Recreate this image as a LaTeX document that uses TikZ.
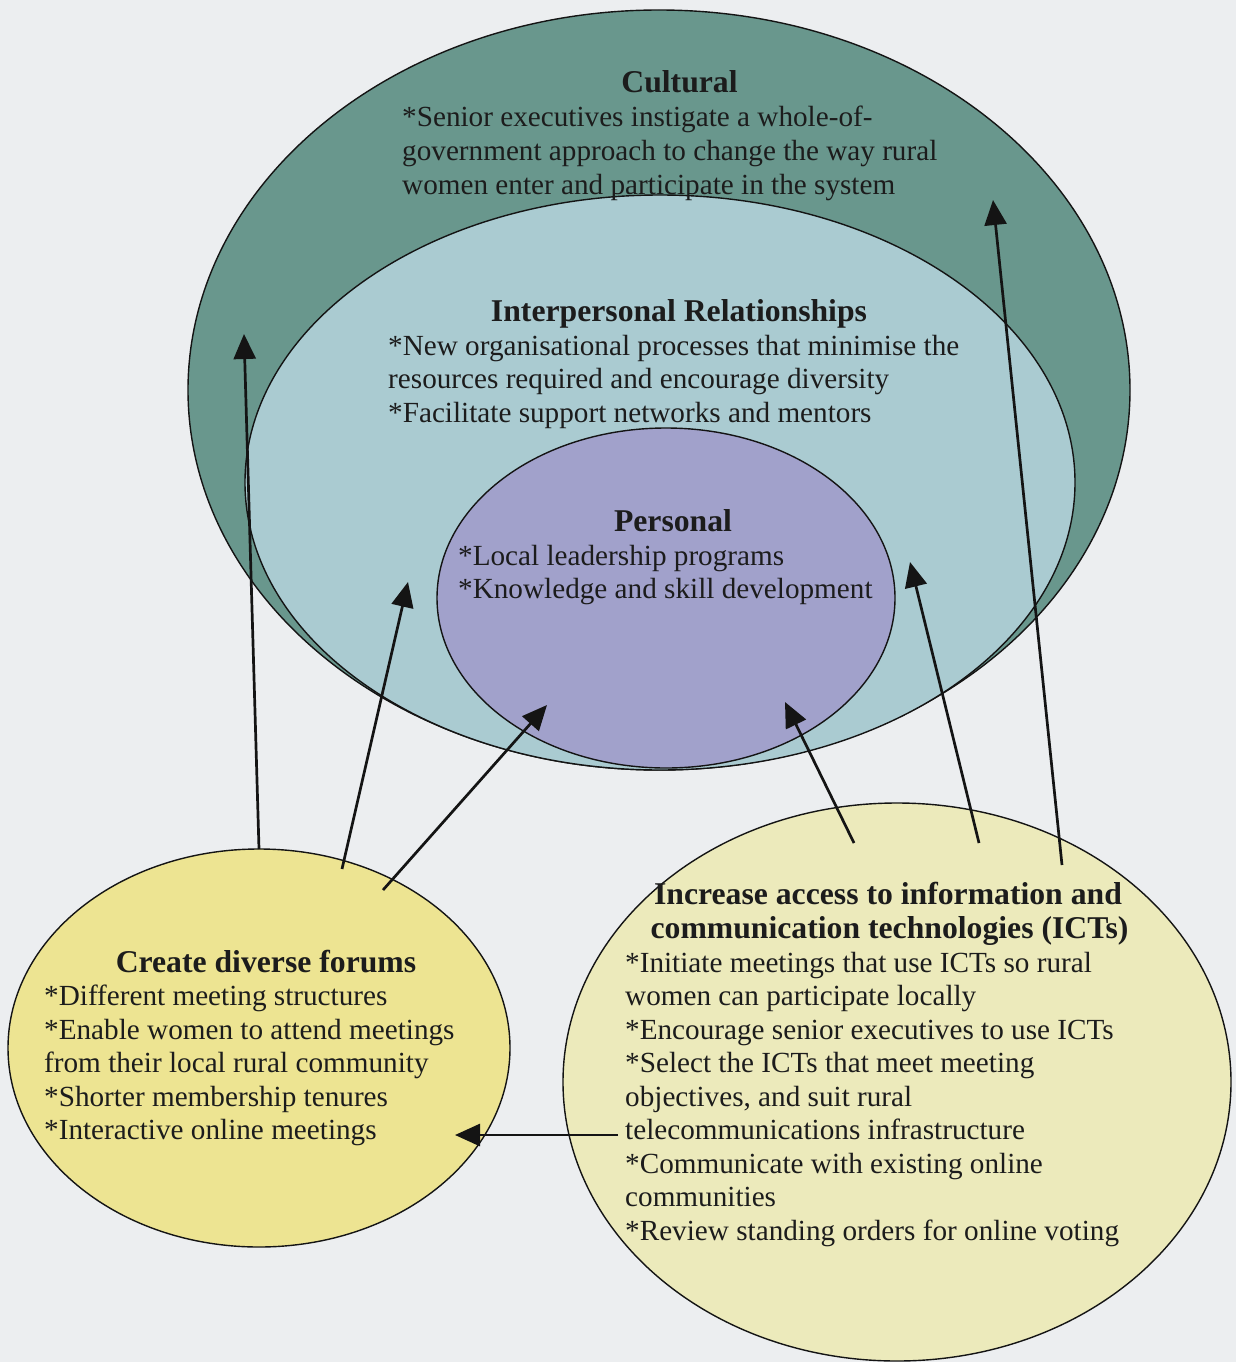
\documentclass[tikz,border=0pt]{standalone}
\usepackage{fontspec}
\setmainfont{Liberation Serif}
\usetikzlibrary{arrows.meta,shapes.geometric}

\definecolor{paper}{RGB}{236,238,240}
\definecolor{cultc}{RGB}{105,151,141}
\definecolor{interc}{RGB}{170,203,209}
\definecolor{persc}{RGB}{161,161,203}
\definecolor{forumc}{RGB}{237,228,146}
\definecolor{ictc}{RGB}{236,234,187}
\definecolor{txt}{RGB}{28,28,28}
\definecolor{ink}{RGB}{20,20,20}

\tikzset{
  oval/.style={ellipse, draw=ink, line width=1.4pt, inner sep=0pt, outer sep=0pt},
  body/.style={anchor=base west, inner sep=0pt, text=txt,
               font=\fontsize{29.2}{33.5}\selectfont},
  head/.style={anchor=base, inner sep=0pt, text=txt,
               font=\fontsize{31.7}{35}\selectfont\bfseries},
  link/.style={draw=ink, line width=2.7pt, -{Triangle[length=25pt,width=22pt]}}
}

\begin{document}
\begin{tikzpicture}[x=1pt,y=-1pt]
  % page
  \fill[paper] (0,0) rectangle (1236,1362);
  \useasboundingbox (0,0) rectangle (1236,1362);

  % nested levels
  \node[oval, fill=cultc,  minimum width=942pt, minimum height=760pt] (cultural) at (659,390) {};
  \node[oval, fill=interc, minimum width=830pt, minimum height=575pt] (interpersonal) at (660,482.5) {};
  \node[oval, fill=persc,  minimum width=458pt, minimum height=340pt] (personal) at (666,598) {};

  % strategies
  \node[oval, fill=forumc, minimum width=502pt, minimum height=398pt] (forums) at (259,1048) {};
  \node[oval, fill=ictc,   minimum width=668pt, minimum height=558pt] (icts) at (897,1082) {};

  % arrow end points
  \coordinate (f1t) at (244,334);
  \coordinate (f2s) at (342,869);  \coordinate (f2t) at (408,582);
  \coordinate (f3s) at (383,890);  \coordinate (f3t) at (547,705);
  \coordinate (i0s) at (618,1135); \coordinate (i0t) at (455,1135);
  \coordinate (i1s) at (854,843);  \coordinate (i1t) at (785,702);
  \coordinate (i2s) at (979,843);  \coordinate (i2t) at (910,562);
  \coordinate (i3s) at (1062,865); \coordinate (i3t) at (993,200);

  \draw[link] (forums.north) -- (f1t);
  \draw[link] (f2s) -- (f2t);
  \draw[link] (f3s) -- (f3t);
  \draw[link] (i0s) -- (i0t);
  \draw[link] (i1s) -- (i1t);
  \draw[link] (i2s) -- (i2t);
  \draw[link] (i3s) -- (i3t);

  % Cultural
  \node[head] (cult-h) at (679.5,93) {Cultural};
  \foreach \t [count=\i from 0] in {
      {*Senior executives instigate a whole-of-},
      {government approach to change the way rural},
      {women enter and participate in the system}}
    \node[body] (cult-\i) at (402,127+33.5*\i) {\t};

  % Interpersonal Relationships
  \node[head] (inter-h) at (679,321) {Interpersonal Relationships};
  \foreach \t [count=\i from 0] in {
      {*New organisational processes that minimise the},
      {resources required and encourage diversity},
      {*Facilitate support networks and mentors}}
    \node[body] (inter-\i) at (388,355+33.5*\i) {\t};

  % Personal
  \node[head] (pers-h) at (673,531) {Personal};
  \foreach \t [count=\i from 0] in {
      {*Local leadership programs},
      {*Knowledge and skill development}}
    \node[body] (pers-\i) at (458,565+33.5*\i) {\t};

  % Create diverse forums
  \node[head] (forum-h) at (266,972) {Create diverse forums};
  \foreach \t [count=\i from 0] in {
      {*Different meeting structures},
      {*Enable women to attend meetings},
      {from their local rural community},
      {*Shorter membership tenures},
      {*Interactive online meetings}}
    \node[body] (forum-\i) at (44,1005.5+33.5*\i) {\t};

  % Increase access to ICTs
  \node[head] (ict-h1) at (888,904) {Increase access to information and};
  \node[head] (ict-h2) at (889.5,938) {communication technologies (ICTs)};
  \foreach \t [count=\i from 0] in {
      {*Initiate meetings that use ICTs so rural},
      {women can participate locally},
      {*Encourage senior executives to use ICTs},
      {*Select the ICTs that meet meeting},
      {objectives, and suit rural},
      {telecommunications infrastructure},
      {*Communicate with existing online},
      {communities},
      {*Review standing orders for online voting}}
    \node[body] (ict-\i) at (625,972+33.5*\i) {\t};
\end{tikzpicture}
\end{document}
